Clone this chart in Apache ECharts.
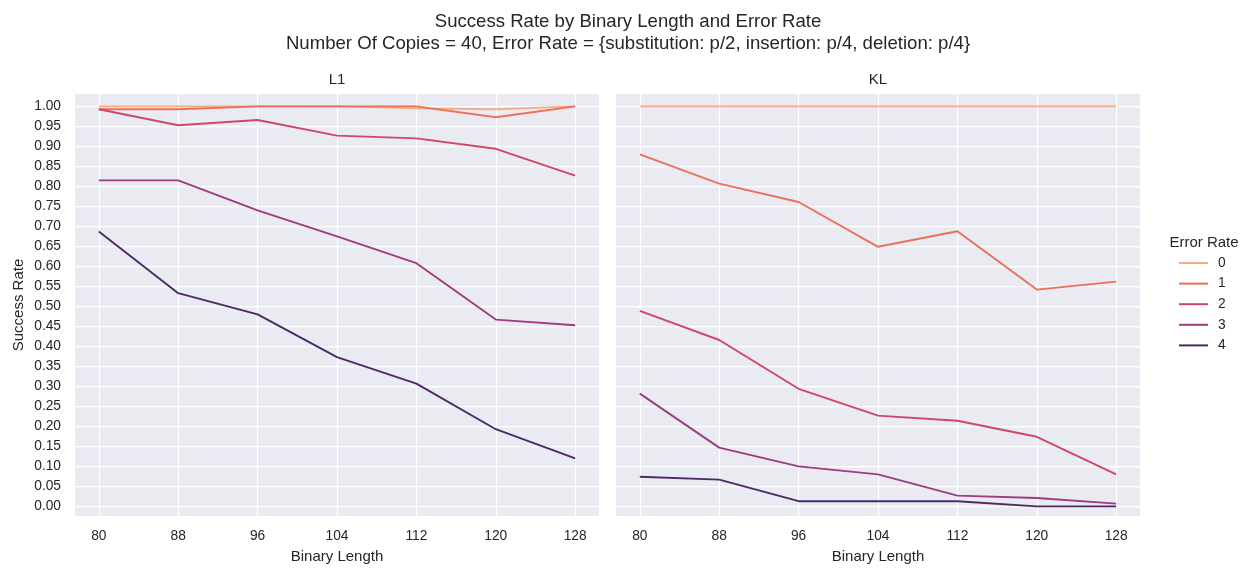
<!DOCTYPE html>
<html>
<head>
<meta charset="utf-8">
<title>Success Rate by Binary Length and Error Rate</title>
<script src="https://cdn.jsdelivr.net/npm/echarts@6/dist/echarts.min.js"></script>
<style>
  html, body { margin: 0; padding: 0; background: #ffffff; }
  #chart { width: 1250px; height: 569px; }
</style>
</head>
<body>
<div id="chart"></div>
<script>
// Binary lengths on the x axis, error rates as hue
const binaryLengths = [80, 88, 96, 104, 112, 120, 128];
const errorRates = ['0', '1', '2', '3', '4'];
const yTicks = [0, 0.05, 0.1, 0.15, 0.2, 0.25, 0.3, 0.35, 0.4, 0.45, 0.5,
                0.55, 0.6, 0.65, 0.7, 0.75, 0.8, 0.85, 0.9, 0.95, 1.0];
const panelNames = ['L1', 'KL'];

// Success rate, L1 panel (one array per error rate)
const l1Err0 = [1.000, 1.000, 1.000, 1.000, 0.995, 0.993, 1.000];
const l1Err1 = [0.993, 0.993, 1.000, 1.000, 1.000, 0.973, 1.000];
const l1Err2 = [0.993, 0.953, 0.966, 0.927, 0.920, 0.894, 0.827];
const l1Err3 = [0.815, 0.815, 0.740, 0.675, 0.608, 0.467, 0.453];
const l1Err4 = [0.687, 0.533, 0.480, 0.373, 0.307, 0.193, 0.120];

// Success rate, KL panel
const klErr0 = [1.000, 1.000, 1.000, 1.000, 1.000, 1.000, 1.000];
const klErr1 = [0.880, 0.807, 0.761, 0.649, 0.688, 0.542, 0.562];
const klErr2 = [0.489, 0.416, 0.294, 0.227, 0.214, 0.174, 0.080];
const klErr3 = [0.282, 0.147, 0.100, 0.080, 0.027, 0.021, 0.007];
const klErr4 = [0.074, 0.067, 0.013, 0.013, 0.013, 0.000, 0.000];

const panelData = [
  [l1Err0, l1Err1, l1Err2, l1Err3, l1Err4],
  [klErr0, klErr1, klErr2, klErr3, klErr4]
];

const palette = ['#f5ad84', '#ec7059', '#d0466a', '#9d3d80', '#4d2a67'];
const FONT = 'Liberation Sans, Arial, Helvetica, sans-serif';
const TEXT = '#262626';
const gridLeft = [75, 616];
const gridWidth = 524;

const chart = echarts.init(document.getElementById('chart'), null, { renderer: 'canvas' });

const grids = gridLeft.map(l => ({ left: l, top: 94, width: gridWidth, height: 427, backgroundColor: '#eaeaf2', show: true, borderWidth: 0 }));

const xAxes = gridLeft.map((_, i) => ({
  type: 'value', gridIndex: i, min: 77.6, max: 130.4,
  name: 'Binary Length', nameLocation: 'middle', nameGap: 33,
  nameTextStyle: { fontFamily: FONT, fontSize: 15, color: TEXT },
  axisLine: { show: false },
  axisTick: { show: false, customValues: binaryLengths },
  axisLabel: { customValues: binaryLengths, fontFamily: FONT, fontSize: 13.75, color: TEXT, margin: 13 },
  splitLine: { show: true, lineStyle: { color: '#ffffff', width: 1.25 } }
}));

const yAxes = gridLeft.map((_, i) => ({
  type: 'value', gridIndex: i, min: -0.024, max: 1.031,
  name: i === 0 ? 'Success Rate' : '', nameLocation: 'middle', nameGap: 49,
  nameTextStyle: { fontFamily: FONT, fontSize: 15, color: TEXT },
  axisLine: { show: false },
  axisTick: { show: false, customValues: yTicks },
  axisLabel: { show: i === 0, customValues: yTicks, fontFamily: FONT, fontSize: 13.75, color: TEXT, margin: 14,
               formatter: v => v.toFixed(2) },
  splitLine: { show: true, lineStyle: { color: '#ffffff', width: 1.25 } }
}));

const series = [];
panelData.forEach((rows, p) => {
  rows.forEach((vals, k) => {
    series.push({
      type: 'line', name: errorRates[k], xAxisIndex: p, yAxisIndex: p,
      data: binaryLengths.map((x, j) => [x, vals[j]]),
      symbol: 'none', smooth: false,
      lineStyle: { color: palette[k], width: 1.9 },
      itemStyle: { color: palette[k] },
      emphasis: { disabled: true },
      z: 2 + k
    });
  });
});

chart.setOption({
  animation: false,
  backgroundColor: '#ffffff',
  color: palette,
  title: [
    { text: 'Success Rate by Binary Length and Error Rate\nNumber Of Copies = 40, Error Rate = {substitution: p/2, insertion: p/4, deletion: p/4}',
      left: 628, top: 11, textAlign: 'center', padding: 0,
      textStyle: { fontFamily: FONT, fontSize: 18.6, fontWeight: 'normal', color: TEXT, lineHeight: 22 } },
    { text: panelNames[0], left: gridLeft[0] + gridWidth / 2, top: 72, textAlign: 'center', padding: 0,
      textStyle: { fontFamily: FONT, fontSize: 15, fontWeight: 'normal', color: TEXT } },
    { text: panelNames[1], left: gridLeft[1] + gridWidth / 2, top: 72, textAlign: 'center', padding: 0,
      textStyle: { fontFamily: FONT, fontSize: 15, fontWeight: 'normal', color: TEXT } },
    { text: 'Error Rate', left: 1204, top: 235, textAlign: 'center', padding: 0,
      textStyle: { fontFamily: FONT, fontSize: 15, fontWeight: 'normal', color: TEXT } }
  ],
  legend: {
    data: errorRates, orient: 'vertical', left: 1179, top: 256, padding: 0,
    icon: 'rect', itemWidth: 29, itemHeight: 2, itemGap: 6.6,
    textStyle: { fontFamily: FONT, fontSize: 13.75, color: TEXT, lineHeight: 14, padding: [0, 0, 0, 5] },
    selectedMode: false
  },
  grid: grids,
  xAxis: xAxes,
  yAxis: yAxes,
  series: series
});
</script>
</body>
</html>
